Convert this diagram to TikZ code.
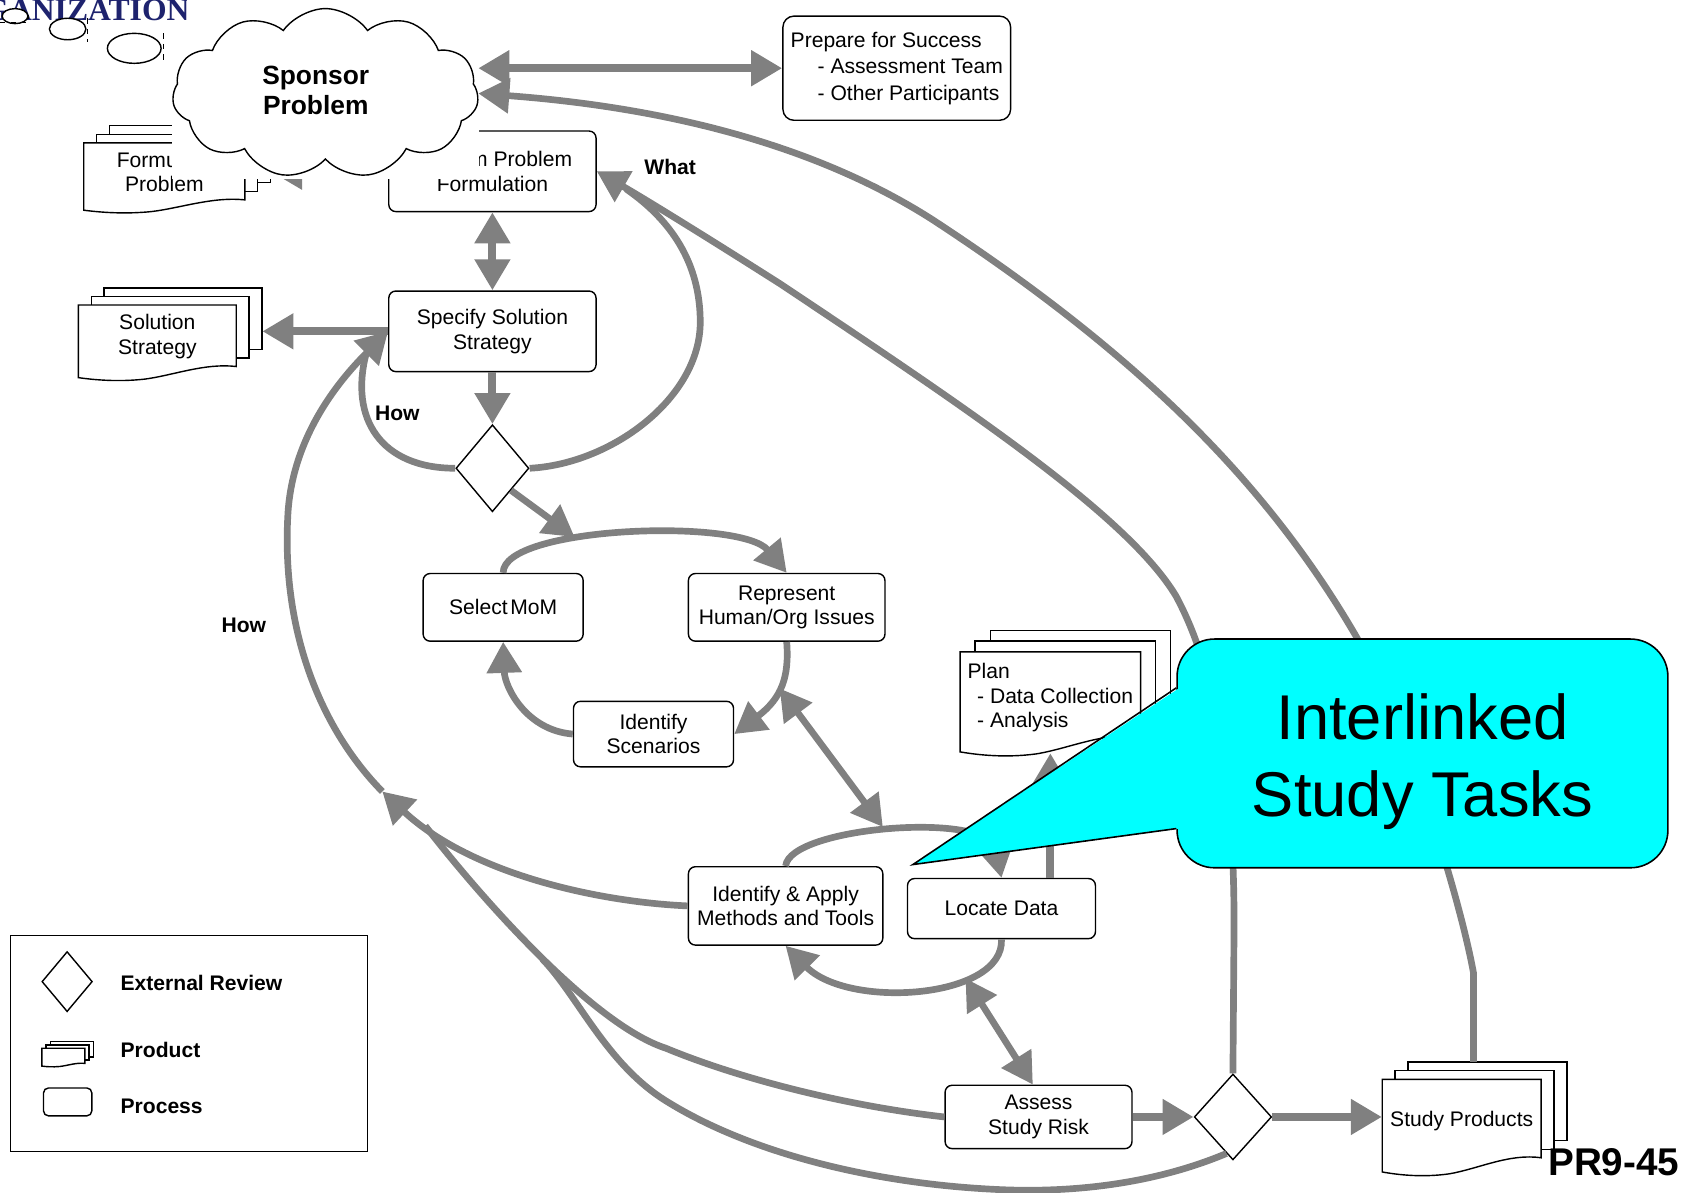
\documentclass[tikz,border=0pt]{standalone}
\usepackage{fontspec}
\setmainfont{Liberation Sans}
\newfontfamily\logofont{Liberation Serif}
\usetikzlibrary{arrows.meta,shapes.geometric,shapes.symbols}

\definecolor{linegray}{RGB}{128,128,128}
\definecolor{logoblue}{RGB}{30,35,110}
\definecolor{callcyan}{RGB}{0,255,255}

\newlength{\uu}
\setlength{\uu}{0.2148mm}
\newcommand{\pgdx}{12}
\newcommand{\pgdy}{8}

\newcommand{\docstack}[7][align=center]{%
  \draw[sheet] (#3+2*\pgdx,#4-2*\pgdy) rectangle (#3+#5+2*\pgdx,#4+0.83*#6-2*\pgdy);
  \draw[sheet] (#3+\pgdx,#4-\pgdy) rectangle (#3+#5+\pgdx,#4+0.83*#6-\pgdy);
  \draw[sheet] (#3,#4) -- (#3+#5,#4) -- (#3+#5,#4+0.83*#6)
    .. controls (#3+0.8*#5,#4+0.78*#6) and (#3+0.6*#5,#4+0.95*#6) .. (#3+0.42*#5,#4+#6)
    .. controls (#3+0.25*#5,#4+1.04*#6) and (#3+0.1*#5,#4+1.01*#6) .. (#3,#4+0.98*#6) -- cycle;
  \node[stacktext,#1,minimum width=#5*\uu,minimum height=(#6-10)*\uu] (#2) at (#3+0.5*#5,#4+0.5*#6-5) {#7};
}

\begin{document}
\begin{tikzpicture}[x=\uu,y=-\uu,>={Triangle[length=6.2mm,width=6.8mm]}]

\tikzstyle{sheet}=[draw,fill=white,line width=0.8pt]
\tikzstyle{stacktext}=[inner sep=0pt,font=\fontsize{12}{14}\selectfont]
\tikzstyle{proc}=[draw,fill=white,rounded corners=1.4mm,line width=0.8pt,inner sep=0pt,align=center,font=\fontsize{12}{14}\selectfont]
\tikzstyle{rev}=[diamond,draw,fill=white,line width=0.8pt,inner sep=0pt]
\tikzstyle{flow}=[draw=linegray,line width=4.6pt]
\tikzstyle{conn}=[draw=linegray,line width=3.8pt]
\tikzstyle{lbl}=[inner sep=0pt,font=\fontsize{12}{14}\selectfont\bfseries]
\tikzstyle{bubble}=[draw,fill=white,line width=0.8pt]

\useasboundingbox (0,0) rectangle (1568,1110);

\docstack{formprob}{78}{133}{150}{64}{Formulate\\Problem}
\node[proc,minimum width=193*\uu,minimum height=75*\uu] (perf) at (458.5,159.5) {Perform Problem\\Formulation};
\draw[flow,->] (perf.west) -- ([xshift=24*\uu]formprob.east);

\fill[white] (160,0) rectangle (446,167);
\node[cloud,cloud puffs=11,cloud puff arc=110,cloud ignores aspect,draw,fill=white,line width=0.8pt,
  minimum width=285*\uu,minimum height=158*\uu,inner sep=0pt] (sponsor) at (303,87) {};
\node[align=center,inner sep=0pt,font=\fontsize{15}{17}\selectfont\bfseries] (sponsortxt) at (294,84) {Sponsor\\Problem};

\begin{scope}
\clip (0,0) rectangle (174,40);
\node[anchor=base west,inner sep=0pt,text=logoblue,font=\logofont\fontsize{18}{20}\selectfont\bfseries] (logo) at (-59,19) {ORGANIZATION};
\end{scope}

\draw[bubble] (14,15) ellipse [x radius=2.58mm,y radius=1.5mm];
\draw[bubble] (63,27) ellipse [x radius=3.65mm,y radius=2.15mm];
\draw[bubble] (125,45) ellipse [x radius=5.37mm,y radius=3mm];
\draw[dashed,line width=0.4pt] (0,21) -- (26,21) -- (26,14);
\draw[dashed,line width=0.4pt] (81,17) -- (81,39);
\draw[dashed,line width=0.4pt] (152,31) -- (152,59);

\node[proc,align=left,rounded corners=2.2mm,minimum width=212*\uu,minimum height=97*\uu,font=\fontsize{12}{15}\selectfont] (prep) at (835,63.5)
  {Prepare for Success\\\hspace*{5.4mm}- Assessment Team\\\hspace*{5.4mm}- Other Participants};

\node[proc,minimum width=193*\uu,minimum height=75*\uu] (spec) at (458.5,308.5) {Specify Solution\\Strategy};
\docstack{solstrat}{73}{284}{147}{69}{Solution\\Strategy}
\node[rev,minimum width=68*\uu,minimum height=81*\uu] (srev) at (458.5,436) {};

\node[proc,minimum width=149*\uu,minimum height=63*\uu] (mom) at (468.5,565.5) {Select\hspace{0.12em}MoM};
\node[proc,minimum width=183*\uu,minimum height=63*\uu] (rep) at (732.5,565.5) {Represent\\Human/Org Issues};
\node[proc,minimum width=149*\uu,minimum height=61*\uu] (scen) at (608.5,683.5) {Identify\\Scenarios};
\node[proc,minimum width=181*\uu,minimum height=73*\uu] (apply) at (731.5,843.5) {Identify \& Apply\\Methods and Tools};
\node[proc,minimum width=175*\uu,minimum height=56*\uu] (locate) at (932.5,846) {Locate Data};
\node[proc,minimum width=174*\uu,minimum height=59*\uu] (assess) at (967,1040) {Assess\\Study Risk};
\node[rev,minimum width=72*\uu,minimum height=80*\uu] (frev) at (1148,1040) {};
\docstack{prods}{1287}{1005}{148}{88}{Study Products}

\begin{scope}
\renewcommand{\pgdx}{14}\renewcommand{\pgdy}{10}
\docstack[align=left]{plan}{894}{607}{168}{95}{Plan\\\hspace*{1.9mm}- Data Collection\\\hspace*{1.9mm}- Analysis}
\end{scope}

\node[lbl] (what) at (624,155) {What};
\node[lbl] (howa) at (370,385) {How};
\node[lbl] (howb) at (227,582) {How};

\coordinate (solin) at ([xshift=24*\uu]solstrat.east);
\draw[flow,<->] (sponsor.east |- prep.west) -- (prep.west);
\draw[flow,<->] (perf.south) -- (spec.north);
\draw[flow,->] (spec.west) -- (spec.west -| solin);
\draw[flow,->] (spec.south) -- (srev.north);
\draw[flow,->] (assess.east) -- (frev.west);
\draw[flow,->] (frev.east) -- (frev.east -| prods.west);
\draw[flow,->] (locate.north -| plan.south) -- ([yshift=-9*\uu]plan.south);

\coordinate (loopa) at (535,500);
\coordinate (repj) at (726,641);
\coordinate (topj) at (822,770);
\coordinate (botj) at (899,911);
\coordinate (merge) at (356,737);
\coordinate (howj) at (341,329);
\coordinate (whatj) at (583,176);
\coordinate (joina) at (396,769);
\coordinate (joinb) at (505,893);

\draw[conn,->] (srev.south east) -- (loopa);
\draw[conn,->] (mom.north) .. controls (468,490) and (690,482) .. (rep.north);
\draw[conn,->] (rep.south) .. controls (735,630) and (728,650) .. (scen.east);
\draw[conn,->] (scen.west) .. controls (490,680) and (470,640) .. (mom.south);
\draw[conn,<->] (repj) -- (topj);
\draw[conn,->] (apply.north) .. controls (735,770) and (920,755) .. (locate.north);
\draw[conn,->] (locate.south) .. controls (935,930) and (790,940) .. (apply.south);
\draw[conn,<->] (botj) -- (assess.100);

\draw[conn] (srev.west) .. controls (355,436) and (325,390) .. (howj);
\draw[conn,->] (merge) .. controls (300,680) and (262,590) .. (268,480) .. controls (272,400) and (325,345) .. (spec.west);
\draw[conn,->] (apply.west) .. controls (560,840) and (440,815) .. (merge);
\draw[conn] (assess.west) .. controls (790,1030) and (690,1005) .. (620,976) .. controls (555,955) and (455,845) .. (joina);
\draw[conn] (frev.-100) .. controls (1080,1100) and (1010,1110) .. (940,1108) .. controls (820,1104) and (700,1075) .. (620,1025) .. controls (564,990) and (538,927) .. (joinb);

\draw[conn] (srev.east) .. controls (570,432) and (652,370) .. (652,300) .. controls (652,245) and (625,205) .. (whatj);
\draw[conn,->] (frev.north) -- (1149,870) .. controls (1150,720) and (1130,620) .. (1095,555) .. controls (1050,480) and (900,380) .. (726,264) .. controls (660,222) and (600,185) .. (perf.east);
\draw[conn,->] ([xshift=11*\uu,yshift=16*\uu]prods.north) -- (1372,906) .. controls (1362,850) and (1320,700) .. (1263,593) .. controls (1180,450) and (1060,330) .. (869,205) .. controls (760,135) and (620,100) .. (sponsor.east);

\node[draw,fill=callcyan,line width=0.9pt,rounded corners=7.5mm,minimum width=457*\uu,minimum height=213*\uu] (tasks) at (1324.5,701.5) {};
\coordinate (ptip) at (850,805);
\fill[callcyan] ([xshift=3*\uu,yshift=61*\uu]tasks.west) -- (ptip) -- ([xshift=3*\uu,yshift=-70*\uu]tasks.west) -- cycle;
\draw[line width=0.9pt] ([yshift=61*\uu]tasks.west) -- (ptip) -- ([yshift=-70*\uu]tasks.west);
\node[align=center,inner sep=0pt,font=\fontsize{36}{44}\selectfont] (taskstxt) at (1324.5,709) {Interlinked\\Study Tasks};

\node[draw,line width=0.8pt,minimum width=332*\uu,minimum height=201*\uu,inner sep=0pt] (legend) at (176,971.5) {};
\node[rev,minimum width=47*\uu,minimum height=56*\uu] (lgrev) at (62.5,914) {};
\node[lbl,anchor=west] (lgrevtxt) at (112,915) {External Review};
\begin{scope}
\renewcommand{\pgdx}{4}\renewcommand{\pgdy}{3}
\docstack{lgprod}{39}{976}{40}{17}{}
\end{scope}
\node[lbl,anchor=west] (lgprodtxt) at (112,978) {Product};
\node[proc,rounded corners=1mm,minimum width=45*\uu,minimum height=26*\uu] (lgproc) at (63,1026) {};
\node[lbl,anchor=west] (lgproctxt) at (112,1030) {Process};

\node[inner sep=0pt,anchor=east,font=\fontsize{22}{26}\selectfont\bfseries] (prnum) at (1564,1082) {PR9-45};

\end{tikzpicture}
\end{document}
